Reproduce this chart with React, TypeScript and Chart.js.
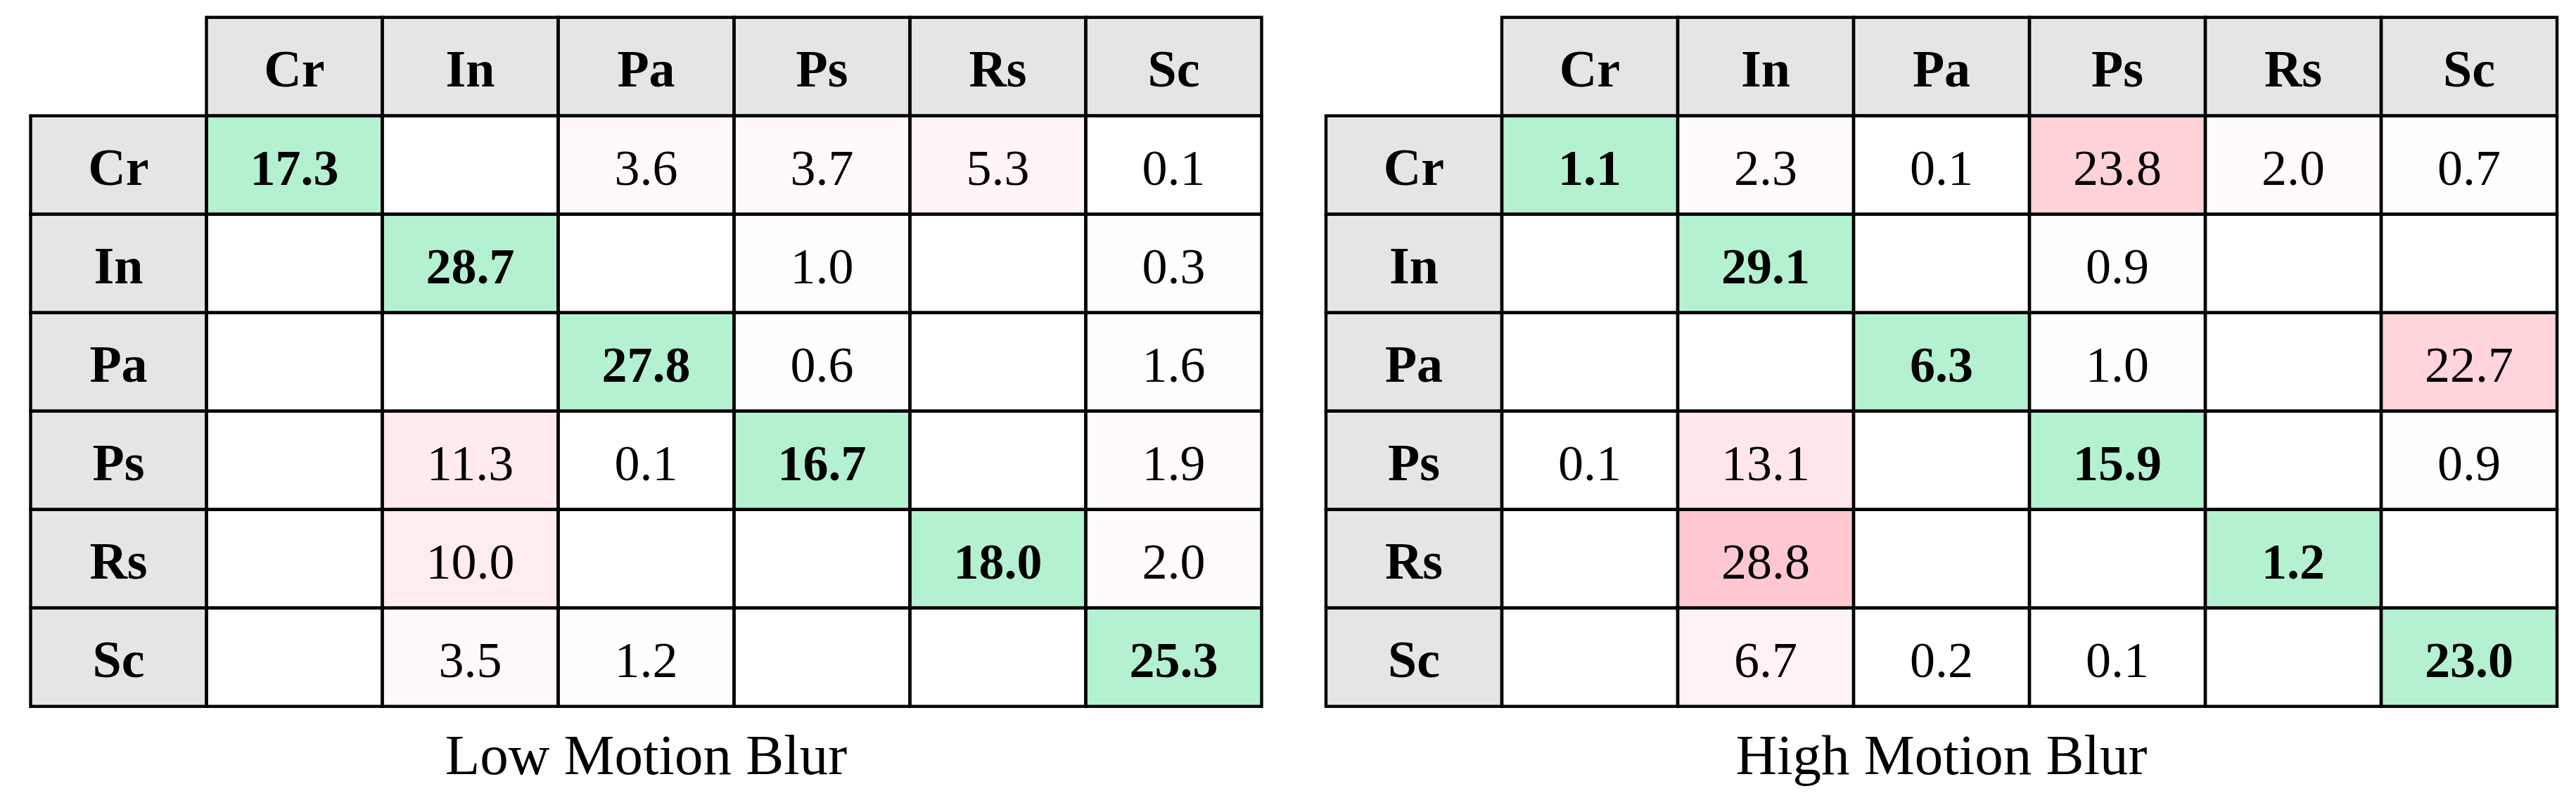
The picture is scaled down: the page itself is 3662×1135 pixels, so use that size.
import React, { useEffect, useRef } from 'react';
import { Chart, registerables } from 'chart.js';

Chart.register(...registerables);

// ---------- data ----------
const categories = ['Cr', 'In', 'Pa', 'Ps', 'Rs', 'Sc'];

const lowBlurRows: (number | null)[][] = [
  [17.3, null, 3.6, 3.7, 5.3, 0.1],
  [null, 28.7, null, 1.0, null, 0.3],
  [null, null, 27.8, 0.6, null, 1.6],
  [null, 11.3, 0.1, 16.7, null, 1.9],
  [null, 10.0, null, null, 18.0, 2.0],
  [null, 3.5, 1.2, null, null, 25.3],
];

const highBlurRows: (number | null)[][] = [
  [1.1, 2.3, 0.1, 23.8, 2.0, 0.7],
  [null, 29.1, null, 0.9, null, null],
  [null, null, 6.3, 1.0, null, 22.7],
  [0.1, 13.1, null, 15.9, null, 0.9],
  [null, 28.8, null, null, 1.2, null],
  [null, 6.7, 0.2, 0.1, null, 23.0],
];

const captions = ['Low Motion Blur', 'High Motion Blur'];

// ---------- styles ----------
const FONT = "'Liberation Serif', 'Times New Roman', serif";
const HEADER_BG = '#e5e5e5';
const DIAG_BG = '#b4f1d0';
const PINK = [255, 198, 206];
const COLOR_MAX = 30;
const LINE_W = 4.4;

function cellColor(r: number, c: number, v: number | null): string {
  if (r === c) return DIAG_BG;
  if (v == null) return '#ffffff';
  const f = Math.min(1, v / COLOR_MAX);
  const g = Math.round(255 - f * (255 - PINK[1]));
  const b = Math.round(255 - f * (255 - PINK[2]));
  return `rgb(255,${g},${b})`;
}

function buildDatasets(rows: (number | null)[][]) {
  const sets: any[] = [];
  sets.push({
    label: 'header',
    data: [null, ...categories.map(() => [0, 1])],
    backgroundColor: ['rgba(0,0,0,0)', ...categories.map(() => HEADER_BG)],
    cellText: ['', ...categories],
    cellBold: [false, ...categories.map(() => true)],
    cellHeader: [false, ...categories.map(() => true)],
  });
  rows.forEach((row, r) => {
    sets.push({
      label: categories[r],
      data: [[r + 1, r + 2], ...row.map(() => [r + 1, r + 2])],
      backgroundColor: [HEADER_BG, ...row.map((v, c) => cellColor(r, c, v))],
      cellText: [categories[r], ...row.map((v) => (v == null ? '' : v.toFixed(1)))],
      cellBold: [true, ...row.map((_, c) => c === r)],
      cellHeader: [true, ...row.map(() => false)],
    });
  });
  return sets.map((d) => ({
    ...d,
    grouped: false,
    barPercentage: 1,
    categoryPercentage: 1,
    borderWidth: 0,
  }));
}

const tablePlugin = {
  id: 'tableCells',
  afterDatasetsDraw(chart: any) {
    const ctx = chart.ctx as CanvasRenderingContext2D;
    const opts = chart.options.plugins.tableCells || {};
    ctx.save();
    // fills are drawn by bars; draw borders + text
    ctx.strokeStyle = '#000';
    ctx.lineWidth = LINE_W;
    chart.data.datasets.forEach((ds: any, di: number) => {
      const meta = chart.getDatasetMeta(di);
      meta.data.forEach((el: any, ci: number) => {
        if (ds.data[ci] == null) return;
        const { x, y, base, width } = el.getProps(['x', 'y', 'base', 'width'], true);
        const top = Math.min(y, base);
        const h = Math.abs(base - y);
        ctx.strokeRect(x - width / 2, top, width, h);
      });
    });
    chart.data.datasets.forEach((ds: any, di: number) => {
      const meta = chart.getDatasetMeta(di);
      meta.data.forEach((el: any, ci: number) => {
        if (ds.data[ci] == null) return;
        const txt = ds.cellText[ci];
        if (!txt) return;
        const { x, y, base } = el.getProps(['x', 'y', 'base'], true);
        const cy = (y + base) / 2;
        const size = ds.cellHeader[ci] ? 74 : 72;
        ctx.font = `${ds.cellBold[ci] ? 'bold ' : ''}${size}px ${FONT}`;
        ctx.fillStyle = '#000';
        ctx.textAlign = 'center';
        ctx.textBaseline = 'alphabetic';
        ctx.fillText(txt, x, cy + 28);
      });
    });
    if (opts.caption) {
      const a = chart.chartArea;
      ctx.font = `81px ${FONT}`;
      ctx.fillStyle = '#000';
      ctx.textAlign = 'center';
      ctx.textBaseline = 'alphabetic';
      ctx.fillText(opts.caption, (a.left + a.right) / 2, a.bottom + 96);
    }
    ctx.restore();
  },
};

function TableChart(props: {
  rows: (number | null)[][];
  caption: string;
  left: number;
  width: number;
  pad: { left: number; right: number; top: number; bottom: number };
}) {
  const ref = useRef<HTMLCanvasElement | null>(null);
  useEffect(() => {
    if (!ref.current) return;
    const chart = new Chart(ref.current, {
      type: 'bar',
      data: {
        labels: ['', ...categories],
        datasets: buildDatasets(props.rows) as any,
      },
      options: {
        responsive: false,
        animation: false,
        events: [],
        layout: { padding: props.pad },
        scales: {
          x: { type: 'category', display: false, offset: true, grid: { display: false } },
          y: { type: 'linear', display: false, reverse: true, min: 0, max: 7 },
        },
        plugins: {
          legend: { display: false },
          tooltip: { enabled: false },
          title: { display: false },
          tableCells: { caption: props.caption },
        } as any,
      },
      plugins: [tablePlugin],
    });
    return () => chart.destroy();
  }, []);
  return (
    <canvas
      ref={ref}
      width={props.width}
      height={1135}
      style={{ position: 'absolute', left: props.left, top: 0, width: props.width, height: 1135 }}
    />
  );
}

export default function App() {
  return (
    <div
      style={{
        position: 'absolute',
        left: 0,
        top: 0,
        width: 3662,
        height: 1135,
        background: '#ffffff',
        overflow: 'hidden',
      }}
    >
      <TableChart
        rows={lowBlurRows}
        caption={captions[0]}
        left={0}
        width={1840}
        pad={{ left: 43.5, right: 46.5, top: 24.7, bottom: 130.3 }}
      />
      <TableChart
        rows={highBlurRows}
        caption={captions[1]}
        left={1840}
        width={1822}
        pad={{ left: 45, right: 27, top: 24.7, bottom: 130.3 }}
      />
    </div>
  );
}
